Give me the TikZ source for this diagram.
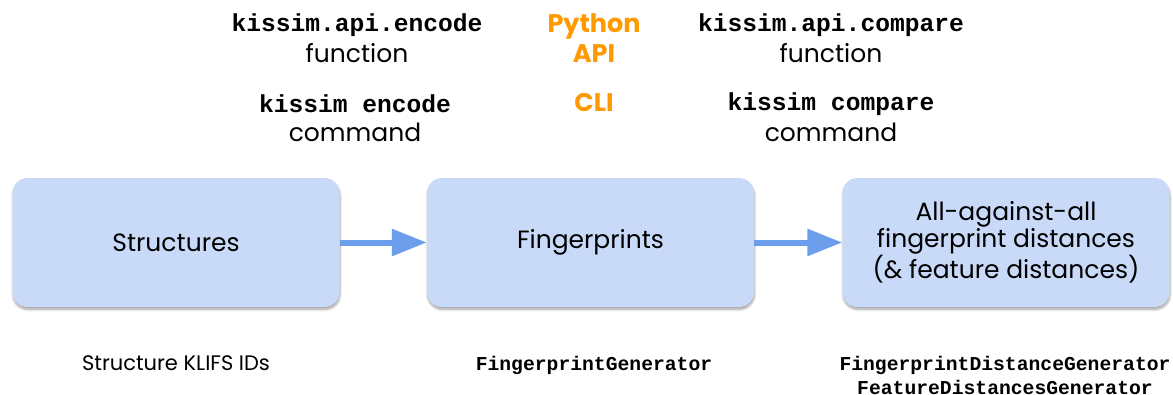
\documentclass[tikz,border=0pt]{standalone}
\usepackage{fontspec}
\setmainfont{Poppins}
\setmonofont{Liberation Mono}
\usetikzlibrary{arrows.meta,shadows.blur}
\definecolor{boxfill}{HTML}{C9DAF8}
\definecolor{arrowblue}{HTML}{6D9EEB}
\definecolor{apiorange}{HTML}{FF9900}
\tikzset{
  stage/.style={rounded corners=15pt, fill=boxfill, draw=none, inner sep=0pt,
    blur shadow={shadow blur steps=6, shadow xshift=0.5pt, shadow yshift=-2.5pt, shadow opacity=35},
    minimum width=327pt, minimum height=129pt, align=center,
    font=\fontsize{25}{27.5}\selectfont},
  flow/.style={draw=arrowblue, line width=6pt, -{Triangle[length=35pt,width=26pt]}},
  codelabel/.style={font=\fontsize{24.6}{28}\selectfont\ttfamily\bfseries},
  plainlabel/.style={font=\fontsize{25}{28}\selectfont},
  iface/.style={font=\fontsize{25.5}{30}\selectfont\bfseries, text=apiorange, align=center},
  classlabel/.style={font=\fontsize{19.7}{24}\selectfont\ttfamily\bfseries, align=center},
  note/.style={font=\fontsize{21}{24}\selectfont}
}
\begin{document}
\begin{tikzpicture}[x=1pt, y=-1pt]
\useasboundingbox (0,0) rectangle (1173,394);

% pipeline stages
\node[stage] (structures) at (176,242.5) {Structures};
\node[stage] (fingerprints) at (590.5,242.5) {Fingerprints};
\node[stage] (distances) at (1006,242.5) {All-against-all\\fingerprint distances\\(\& feature distances)};

\draw[flow] (structures.east) -- (fingerprints.west);
\draw[flow] (fingerprints.east) -- (distances.west);

% interfaces
\node[codelabel] (apiencode) at (357,25) {kissim.api.encode};
\node[plainlabel] (funcencode) at (357,53) {function};
\node[iface] (python) at (594,38) {Python\\API};
\node[codelabel] (apicompare) at (831,25) {kissim.api.compare};
\node[plainlabel] (funccompare) at (831,53) {function};

\node[codelabel] (cliencode) at (355,104) {kissim encode};
\node[plainlabel] (cmdencode) at (355,132) {command};
\node[iface] (cli) at (594,103) {CLI};
\node[codelabel] (clicompare) at (831,104) {kissim compare};
\node[plainlabel] (cmdcompare) at (831,132) {command};

% inputs and generator classes
\node[note] (klifs) at (176,363) {Structure KLIFS IDs};
\node[classlabel] (fpgen) at (594,365) {FingerprintGenerator};
\node[classlabel] (distgen) at (1005,375) {FingerprintDistanceGenerator\\FeatureDistancesGenerator};
\end{tikzpicture}
\end{document}
